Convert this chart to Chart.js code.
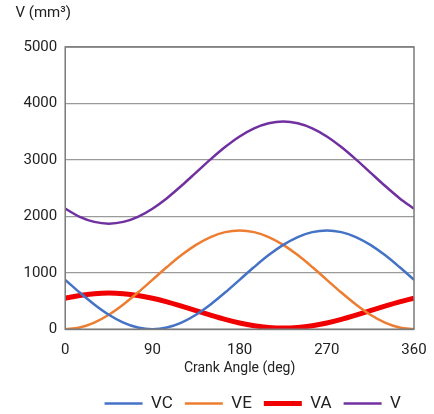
<!DOCTYPE html>
<html>
<head>
<meta charset="utf-8">
<script src="https://cdn.jsdelivr.net/npm/chart.js@4"></script>
<style>
  html, body { margin: 0; padding: 0; background: #fff; }
  #wrap { width: 434px; height: 414px; }
</style>
</head>
<body>
<div id="wrap"><canvas id="c" width="434" height="414"></canvas></div>
<script>
// Crank angle samples (deg)
const angles = [0, 15, 30, 45, 60, 75, 90, 105, 120, 135, 150, 165, 180,
                195, 210, 225, 240, 255, 270, 285, 300, 315, 330, 345, 360];
// Compression space volume (mm^3)
const vc = [875, 649, 438, 256, 117, 30, 0, 30, 117, 256, 438, 649, 875,
            1101, 1313, 1494, 1633, 1720, 1750, 1720, 1633, 1494, 1313, 1101, 875];
// Expansion space volume (mm^3)
const ve = [0, 30, 117, 256, 438, 649, 875, 1101, 1313, 1494, 1633, 1720, 1750,
            1720, 1633, 1494, 1313, 1101, 875, 649, 438, 256, 117, 30, 0];
// VA volume (mm^3)
const va = [549, 598, 629, 640, 629, 598, 549, 485, 410, 330, 250, 175, 111,
            62, 31, 20, 31, 62, 111, 175, 250, 330, 410, 485, 549];
// Total volume (mm^3)
const vTotal = [2135, 1991, 1901, 1870, 1901, 1991, 2135, 2322, 2541, 2775, 3009, 3227, 3415,
                3559, 3649, 3680, 3649, 3559, 3415, 3227, 3009, 2775, 2541, 2322, 2135];
const xTicks = [0, 90, 180, 270, 360];
const yTicks = [0, 1000, 2000, 3000, 4000, 5000];

const pts = arr => angles.map((a, i) => ({ x: a, y: arr[i] }));

const FONT = 'Roboto, "Noto Sans", sans-serif';

// Frame around the plotting area
const framePlugin = {
  id: 'frame',
  afterDatasetsDraw(chart) {
    const { ctx, chartArea: a } = chart;
    ctx.save();
    ctx.strokeStyle = '#7a7a7a';
    ctx.lineWidth = 1.5;
    ctx.strokeRect(a.left, a.top, a.right - a.left, a.bottom - a.top);
    ctx.restore();
  }
};

// Nudge the legend row to the right of the canvas centre
const legendShift = {
  id: 'legendShift',
  afterLayout(chart) {
    const lg = chart.legend;
    if (lg) { lg.left += 30; lg.right += 30; }
  }
};

const line = (label, data, color, width) => ({
  label, data: pts(data), borderColor: color, backgroundColor: color,
  borderWidth: width, pointRadius: 0, cubicInterpolationMode: 'monotone', fill: false
});

new Chart(document.getElementById('c'), {
  type: 'line',
  data: {
    datasets: [
      line('VC', vc, '#4472C4', 2.5),
      line('VE', ve, '#ED7D31', 2.5),
      line('VA', va, '#F00000', 5),
      line('V', vTotal, '#7030A0', 2.5)
    ]
  },
  options: {
    responsive: false,
    animation: false,
    layout: { padding: { left: 15.5, right: 4, top: 4, bottom: -8 } },
    plugins: {
      title: {
        display: true, text: 'V (mm³)', align: 'start',
        color: '#222', font: { family: FONT, size: 15, weight: 'normal' },
        padding: { top: 0, bottom: 25 }
      },
      legend: {
        position: 'bottom',
        labels: {
          usePointStyle: true, pointStyle: 'line', pointStyleWidth: 38,
          color: '#222', font: { family: FONT, size: 17 }, padding: 12
        }
      },
      tooltip: { enabled: false }
    },
    scales: {
      x: {
        type: 'linear', min: 0, max: 360,
        afterBuildTicks: ax => { ax.ticks = xTicks.map(v => ({ value: v })); },
        // keep only the half-label overhang on the right, not the tick gap
        afterFit: ax => { ax.paddingRight = 20; },
        grid: { display: false, drawTicks: false },
        border: { display: false },
        ticks: { color: '#222', font: { family: FONT, size: 15 }, padding: 12,
                 callback: v => String(v) },
        title: { display: true, text: 'Crank Angle (deg)', color: '#222',
                 font: { family: FONT, size: 14 }, padding: { top: -11, bottom: 6 } }
      },
      y: {
        min: 0, max: 5000,
        afterBuildTicks: ax => { ax.ticks = yTicks.map(v => ({ value: v })); },
        ticks: { color: '#222', font: { family: FONT, size: 15 }, padding: 8,
                 callback: v => String(v) },
        grid: { color: '#9a9a9a', lineWidth: 1.2, drawTicks: false },
        border: { display: false }
      }
    }
  },
  plugins: [framePlugin, legendShift]
});
</script>
</body>
</html>
